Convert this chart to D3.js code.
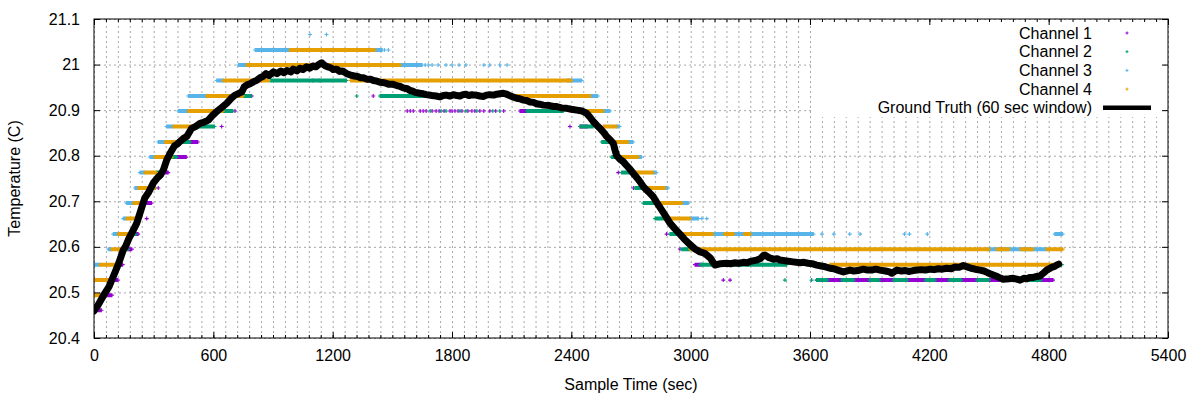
<!DOCTYPE html>
<html>
<head>
<meta charset="utf-8">
<script src="https://cdn.jsdelivr.net/npm/d3@7"></script>
<style>
  body { margin: 0; background: #fff; }
  svg text { font-family: "Liberation Sans", Arial, sans-serif; font-size: 16px; fill: #000; }
</style>
</head>
<body>
<svg id="chart" width="1200" height="400"></svg>
<script>
// ticks
const xTickValues = [0, 600, 1200, 1800, 2400, 3000, 3600, 4200, 4800, 5400];
const yTickValues = [20.4, 20.5, 20.6, 20.7, 20.8, 20.9, 21.0, 21.1];
const yTickLabels = ["20.4", "20.5", "20.6", "20.7", "20.8", "20.9", "21", "21.1"];

const seriesNames = ["Channel 1", "Channel 2", "Channel 3", "Channel 4", "Ground Truth (60 sec window)"];

// runs of constant readings: [start sec, end sec, reading]
const ch1Runs = [
  [22, 39, 20.461], [30, 90, 20.494], [72, 122, 20.527], [114, 145, 20.561], [172, 190, 20.595],
  [210, 223, 20.628], [265, 290, 20.696], [340, 374, 20.763], [416, 466, 20.797], [483, 524, 20.830],
  [2142, 2176, 20.898], [2444, 2480, 20.864], [3022, 3056, 20.561], [3634, 4823, 20.527]
];
const ch1Points = [
  [265, 20.662], [323, 20.729], [642, 20.864], [709, 20.898], [793, 20.931], [1101, 20.965], [1136, 20.965],
  [1404, 20.931], [1575, 20.898], [1590, 20.898], [1605, 20.898], [1640, 20.898], [1655, 20.898],
  [1670, 20.898], [1700, 20.898], [1720, 20.898], [1735, 20.898], [1760, 20.898], [1790, 20.898],
  [1800, 20.898], [1815, 20.898], [1830, 20.898], [1850, 20.898], [1880, 20.898], [1900, 20.898],
  [1915, 20.898], [1940, 20.898], [1960, 20.898], [1990, 20.898], [2020, 20.898], [2060, 20.898],
  [2393, 20.864], [2636, 20.763], [2712, 20.729], [2879, 20.628], [2946, 20.595], [3164, 20.527], [3198, 20.527]
];

const ch2Runs = [
  [0, 13, 20.461], [147, 172, 20.595], [198, 210, 20.628], [300, 310, 20.729], [315, 340, 20.763],
  [391, 416, 20.797], [441, 483, 20.830], [516, 608, 20.864], [650, 700, 20.898], [750, 790, 20.931],
  [885, 1271, 20.965], [1438, 2000, 20.931], [2176, 2360, 20.898], [2444, 2510, 20.864], [2553, 2603, 20.830],
  [2603, 2645, 20.797], [2653, 2720, 20.763], [2720, 2762, 20.729], [2762, 2829, 20.696], [2821, 2871, 20.662],
  [2896, 2963, 20.628], [2955, 2997, 20.595], [3047, 3483, 20.561], [4857, 4867, 20.561],
  [3634, 3690, 20.527], [3760, 3820, 20.527], [3900, 3950, 20.527], [4020, 4090, 20.527], [4180, 4230, 20.527],
  [4300, 4360, 20.527], [4440, 4500, 20.527], [4560, 4640, 20.527], [4700, 4760, 20.527]
];
const ch2Points = [
  [1321, 20.931], [1690, 20.898], [1745, 20.898], [1770, 20.898], [1840, 20.898], [1870, 20.898],
  [1925, 20.898], [2005, 20.898], [2040, 20.898], [3474, 20.527], [3608, 20.527]
];

const ch3Runs = [
  [0, 13, 20.461], [5, 30, 20.561], [72, 89, 20.595], [97, 122, 20.628], [147, 164, 20.662],
  [164, 198, 20.696], [206, 223, 20.729], [231, 256, 20.763], [282, 307, 20.797], [323, 357, 20.830],
  [365, 399, 20.864], [424, 474, 20.898], [474, 566, 20.931], [617, 650, 20.965], [726, 768, 20.999],
  [810, 985, 21.032], [1413, 1450, 21.032], [1539, 1650, 20.999], [2380, 2452, 20.965], [2494, 2535, 20.931],
  [2561, 2594, 20.898], [2628, 2645, 20.864], [2686, 2712, 20.830], [2737, 2754, 20.797], [2812, 2829, 20.763],
  [2871, 2888, 20.729], [2955, 2988, 20.696], [2997, 3039, 20.662], [3098, 3617, 20.628], [4831, 4872, 20.628],
  [4490, 4790, 20.595]
];
const ch3Points = [
  [1086, 21.066], [1169, 21.066], [1460, 21.032], [1480, 21.032],
  [1665, 20.999], [1680, 20.999], [1700, 20.999], [1730, 20.999], [1770, 20.999], [1800, 20.999],
  [1835, 20.999], [1870, 20.999], [1960, 20.999], [1990, 20.999], [2040, 20.999], [2077, 20.999],
  [3056, 20.662], [3081, 20.662], [3660, 20.628], [3720, 20.628], [3800, 20.628], [3852, 20.628],
  [4075, 20.628], [4100, 20.628], [4190, 20.628]
];

const ch4Runs = [
  [0, 30, 20.494], [0, 72, 20.527], [30, 114, 20.561], [89, 147, 20.595], [122, 198, 20.628],
  [164, 223, 20.662], [198, 248, 20.696], [223, 307, 20.729], [256, 315, 20.763], [307, 391, 20.797],
  [357, 441, 20.830], [399, 516, 20.864], [474, 650, 20.898], [566, 750, 20.931], [650, 880, 20.965],
  [1290, 2400, 20.965], [768, 1539, 20.999], [985, 1413, 21.032],
  [2107, 2494, 20.931], [2400, 2561, 20.898], [2561, 2628, 20.864], [2603, 2686, 20.830], [2645, 2737, 20.797],
  [2720, 2812, 20.763], [2762, 2871, 20.729], [2829, 2955, 20.696], [2871, 2997, 20.662], [2963, 3110, 20.628],
  [3170, 3215, 20.628], [3270, 3300, 20.628], [2997, 4500, 20.595], [4540, 4600, 20.595], [4660, 4720, 20.595],
  [4790, 4872, 20.595], [3700, 4857, 20.561]
];
const ch4Points = [];

// ground truth: [sec, temp]
const truth = [
  [0, 20.459], [20, 20.472], [50, 20.495], [75, 20.512], [97, 20.535], [125, 20.565], [147, 20.593],
  [160, 20.602], [175, 20.618], [198, 20.637], [215, 20.652], [231, 20.674], [256, 20.708], [275, 20.720],
  [298, 20.740], [320, 20.752], [335, 20.758], [349, 20.769], [365, 20.790], [382, 20.805], [405, 20.822],
  [420, 20.826], [432, 20.831], [450, 20.838], [466, 20.842], [480, 20.852], [491, 20.860], [510, 20.864],
  [533, 20.871], [550, 20.873], [575, 20.878], [595, 20.888], [617, 20.897], [640, 20.905], [667, 20.915],
  [690, 20.926], [709, 20.933], [725, 20.936], [743, 20.940], [755, 20.951], [768, 20.955], [785, 20.958],
  [801, 20.962], [820, 20.966], [835, 20.971], [850, 20.974], [865, 20.980], [880, 20.976], [902, 20.984],
  [920, 20.980], [940, 20.986], [955, 20.982], [970, 20.987], [990, 20.984], [1002, 20.990], [1020, 20.986],
  [1035, 20.992], [1050, 20.989], [1069, 20.995], [1085, 20.992], [1100, 20.997], [1115, 20.995], [1130, 21.000],
  [1145, 21.004], [1160, 20.998], [1175, 20.995], [1190, 20.993], [1203, 20.989], [1220, 20.990], [1235, 20.985],
  [1250, 20.986], [1271, 20.980], [1290, 20.977], [1310, 20.975], [1325, 20.974], [1340, 20.971], [1355, 20.971],
  [1371, 20.968], [1390, 20.968], [1405, 20.965], [1420, 20.964], [1438, 20.961], [1460, 20.960], [1480, 20.957],
  [1500, 20.957], [1522, 20.954], [1540, 20.952], [1555, 20.949], [1575, 20.947], [1589, 20.943], [1600, 20.942],
  [1615, 20.939], [1639, 20.937], [1655, 20.936], [1670, 20.934], [1700, 20.932], [1720, 20.931], [1740, 20.929],
  [1755, 20.932], [1770, 20.933], [1790, 20.931], [1807, 20.934], [1825, 20.932], [1840, 20.931], [1855, 20.934],
  [1870, 20.935], [1885, 20.932], [1900, 20.934], [1920, 20.933], [1941, 20.931], [1957, 20.930], [1975, 20.933],
  [1990, 20.934], [2010, 20.933], [2025, 20.935], [2040, 20.936], [2058, 20.937], [2075, 20.935], [2090, 20.932],
  [2105, 20.929], [2125, 20.926], [2140, 20.925], [2160, 20.922], [2175, 20.921], [2192, 20.918], [2210, 20.917],
  [2225, 20.914], [2240, 20.913], [2259, 20.911], [2290, 20.910], [2310, 20.908], [2326, 20.908], [2350, 20.905],
  [2377, 20.904], [2400, 20.902], [2427, 20.900], [2455, 20.898], [2477, 20.893], [2493, 20.885], [2510, 20.875],
  [2530, 20.866], [2544, 20.860], [2561, 20.852], [2578, 20.842], [2595, 20.835], [2611, 20.827], [2620, 20.812],
  [2628, 20.800], [2645, 20.792], [2661, 20.787], [2675, 20.780], [2690, 20.773], [2712, 20.761], [2737, 20.748],
  [2750, 20.740], [2762, 20.732], [2775, 20.726], [2790, 20.720], [2812, 20.710], [2830, 20.697], [2854, 20.681],
  [2875, 20.667], [2896, 20.652], [2920, 20.640], [2946, 20.628], [2970, 20.616], [2997, 20.605], [3020, 20.596],
  [3047, 20.589], [3070, 20.586], [3081, 20.582], [3100, 20.575], [3114, 20.565], [3122, 20.560], [3150, 20.563],
  [3181, 20.564], [3200, 20.563], [3220, 20.565], [3240, 20.564], [3265, 20.566], [3285, 20.565], [3300, 20.568],
  [3332, 20.571], [3350, 20.574], [3365, 20.581], [3374, 20.582], [3395, 20.576], [3416, 20.573], [3435, 20.574],
  [3449, 20.571], [3465, 20.570], [3483, 20.569], [3515, 20.567], [3550, 20.565], [3570, 20.566], [3590, 20.564],
  [3610, 20.563], [3634, 20.560], [3670, 20.557], [3700, 20.553], [3720, 20.552], [3740, 20.549], [3768, 20.545],
  [3801, 20.549], [3820, 20.547], [3840, 20.548], [3868, 20.551], [3890, 20.549], [3910, 20.549], [3930, 20.551],
  [3952, 20.549], [3980, 20.547], [4000, 20.545], [4011, 20.542], [4036, 20.549], [4060, 20.547], [4080, 20.548],
  [4100, 20.546], [4119, 20.548], [4140, 20.549], [4160, 20.550], [4180, 20.549], [4203, 20.551], [4225, 20.550],
  [4245, 20.552], [4265, 20.551], [4287, 20.553], [4310, 20.552], [4330, 20.556], [4350, 20.555], [4371, 20.559],
  [4390, 20.556], [4410, 20.553], [4430, 20.551], [4455, 20.549], [4475, 20.547], [4490, 20.544], [4505, 20.541],
  [4522, 20.538], [4535, 20.536], [4550, 20.533], [4572, 20.529], [4600, 20.530], [4622, 20.531], [4640, 20.529],
  [4656, 20.527], [4675, 20.531], [4690, 20.530], [4705, 20.533], [4723, 20.533], [4740, 20.535], [4756, 20.536],
  [4775, 20.543], [4790, 20.549], [4815, 20.555], [4830, 20.557], [4840, 20.560], [4850, 20.562]
];

const colors = ["#9400d3", "#009e73", "#56b4e9", "#e69f00"];
const sampleStep = 3; // seconds between readings inside a run

const svg = d3.select("#chart");
const margin = { left: 94, right: 32, top: 19, bottom: 62 };
const width = 1200, height = 400;
const plotW = width - margin.left - margin.right;
const plotH = height - margin.top - margin.bottom;

const xScale = d3.scaleLinear().domain([0, 5400]).range([margin.left, width - margin.right]);
const yScale = d3.scaleLinear().domain([20.4, 21.1]).range([height - margin.bottom, margin.top]);
const xMinor = d3.range(0, 5401, 60);

// grid
const gridStyle = g => {
  g.select(".domain").remove();
  g.selectAll(".tick line").attr("stroke", "#a8a8a8").attr("stroke-dasharray", "2,3");
  g.selectAll("text").remove();
};
svg.append("g")
  .attr("transform", `translate(0,${height - margin.bottom})`)
  .call(d3.axisBottom(xScale).tickValues(xMinor).tickSize(-plotH))
  .call(gridStyle);
svg.append("g")
  .attr("transform", `translate(${margin.left},0)`)
  .call(d3.axisLeft(yScale).tickValues(yTickValues).tickSize(-plotW))
  .call(gridStyle);

// data
svg.append("clipPath").attr("id", "plot-clip")
  .append("rect").attr("x", margin.left).attr("y", margin.top).attr("width", plotW).attr("height", plotH);

const plusPath = pts => pts.map(([t, v]) => {
  const px = xScale(t), py = yScale(v);
  return `M${px - 2},${py}h4M${px},${py - 2}v4`;
}).join("");

function expand(runs, points) {
  const out = [];
  runs.forEach(([t0, t1, v]) => {
    for (let t = t0; t <= t1; t += sampleStep) out.push([t, v]);
  });
  return out.concat(points);
}

const channels = [
  expand(ch1Runs, ch1Points),
  expand(ch2Runs, ch2Points),
  expand(ch3Runs, ch3Points),
  expand(ch4Runs, ch4Points)
];

const dataG = svg.append("g").attr("clip-path", "url(#plot-clip)");
channels.forEach((pts, i) => {
  dataG.append("path")
    .attr("d", plusPath(pts))
    .attr("fill", "none")
    .attr("stroke", colors[i])
    .attr("stroke-width", 1.1);
});

const truthLine = d3.line().x(d => xScale(d[0])).y(d => yScale(d[1]));
dataG.append("path")
  .datum(truth)
  .attr("d", truthLine)
  .attr("fill", "none")
  .attr("stroke", "#000")
  .attr("stroke-width", 7)
  .attr("stroke-linejoin", "round")
  .attr("stroke-linecap", "round");

// legend (opaque)
const legend = svg.append("g");
legend.append("rect")
  .attr("x", 814).attr("y", margin.top + 1)
  .attr("width", 347).attr("height", 97)
  .attr("fill", "#fff");
seriesNames.forEach((name, i) => {
  const ly = 33 + i * 18.7;
  legend.append("text")
    .attr("x", 1092).attr("y", ly)
    .attr("dy", "0.35em")
    .attr("text-anchor", "end")
    .text(name);
  if (i < 4) {
    legend.append("path")
      .attr("d", `M1125.5,${ly}h3M1127,${ly - 1.5}v3`)
      .attr("stroke", colors[i]).attr("stroke-width", 1).attr("fill", "none");
  } else {
    legend.append("line")
      .attr("x1", 1103).attr("x2", 1151).attr("y1", ly).attr("y2", ly)
      .attr("stroke", "#000").attr("stroke-width", 4.5);
  }
});

// axes (ticks on all four sides, pointing inward)
const axisStyle = g => {
  g.select(".domain").remove();
  g.selectAll(".tick line").attr("stroke", "#000");
};
svg.append("g")
  .attr("transform", `translate(0,${height - margin.bottom})`)
  .call(d3.axisBottom(xScale).tickValues(xTickValues).tickSize(-6).tickPadding(12).tickFormat(d3.format("d")))
  .call(axisStyle);
svg.append("g")
  .attr("transform", `translate(0,${height - margin.bottom})`)
  .call(d3.axisBottom(xScale).tickValues(xMinor).tickSize(-3).tickFormat(""))
  .call(axisStyle);
svg.append("g")
  .attr("transform", `translate(0,${margin.top})`)
  .call(d3.axisTop(xScale).tickValues(xTickValues).tickSize(-6).tickFormat(""))
  .call(axisStyle);
svg.append("g")
  .attr("transform", `translate(0,${margin.top})`)
  .call(d3.axisTop(xScale).tickValues(xMinor).tickSize(-3).tickFormat(""))
  .call(axisStyle);
svg.append("g")
  .attr("transform", `translate(${margin.left},0)`)
  .call(d3.axisLeft(yScale).tickValues(yTickValues).tickSize(-6).tickPadding(14).tickFormat((d, i) => yTickLabels[i]))
  .call(axisStyle);
svg.append("g")
  .attr("transform", `translate(${width - margin.right},0)`)
  .call(d3.axisRight(yScale).tickValues(yTickValues).tickSize(-6).tickFormat(""))
  .call(axisStyle);

svg.selectAll(".tick text").attr("font-family", null).attr("font-size", null).attr("fill", "#000");

// border
svg.append("rect")
  .attr("x", margin.left).attr("y", margin.top)
  .attr("width", plotW).attr("height", plotH)
  .attr("fill", "none").attr("stroke", "#000").attr("stroke-width", 1);

// axis titles
svg.append("text")
  .attr("x", margin.left + plotW / 2).attr("y", 384)
  .attr("dy", "0.35em")
  .attr("text-anchor", "middle")
  .text("Sample Time (sec)");
svg.append("text")
  .attr("transform", `translate(14,${margin.top + plotH / 2}) rotate(-90)`)
  .attr("dy", "0.35em")
  .attr("text-anchor", "middle")
  .text("Temperature (C)");
</script>
</body>
</html>
